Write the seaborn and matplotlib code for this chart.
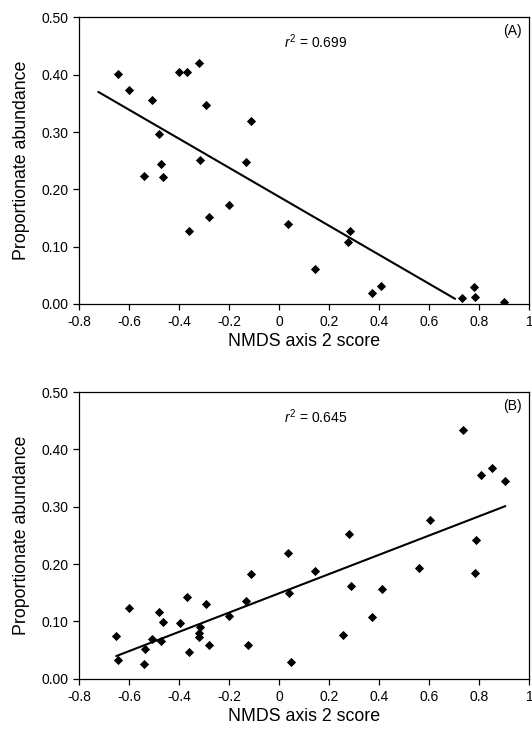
import numpy as np
import pandas as pd
import matplotlib
matplotlib.use("Agg")
import matplotlib.pyplot as plt
import seaborn as sns

# ---- data ----
nmds_a = [-0.645, -0.600, -0.541, -0.508, -0.481, -0.472, -0.464, -0.400, -0.371,
          -0.360, -0.321, -0.319, -0.292, -0.283, -0.200, -0.135, -0.115, 0.036,
          0.141, 0.276, 0.284, 0.369, 0.408, 0.732, 0.780, 0.784, 0.899]
abund_a = [0.402, 0.373, 0.224, 0.355, 0.297, 0.245, 0.221, 0.405, 0.404,
           0.128, 0.421, 0.251, 0.347, 0.152, 0.172, 0.247, 0.320, 0.140,
           0.061, 0.109, 0.128, 0.020, 0.031, 0.010, 0.030, 0.013, 0.003]
fit_x_a = [-0.724, 0.703]
fit_y_a = [0.370, 0.009]
r2_a = "0.699"

nmds_b = [-0.652, -0.645, -0.601, -0.541, -0.537, -0.508, -0.481, -0.473, -0.464,
          -0.399, -0.371, -0.360, -0.319, -0.321, -0.320, -0.292, -0.283, -0.200,
          -0.135, -0.125, -0.115, 0.035, 0.037, 0.047, 0.143, 0.255, 0.277,
          0.287, 0.371, 0.411, 0.560, 0.601, 0.733, 0.783, 0.787, 0.808, 0.849, 0.901]
abund_b = [0.074, 0.033, 0.123, 0.026, 0.051, 0.070, 0.116, 0.065, 0.099,
           0.097, 0.142, 0.047, 0.090, 0.080, 0.072, 0.130, 0.059, 0.110,
           0.136, 0.059, 0.183, 0.220, 0.149, 0.030, 0.188, 0.076, 0.253,
           0.161, 0.108, 0.156, 0.193, 0.277, 0.434, 0.184, 0.242, 0.355, 0.368, 0.345]
fit_x_b = [-0.652, 0.904]
fit_y_b = [0.0395, 0.301]
r2_b = "0.645"

x_ticks = [-0.8, -0.6, -0.4, -0.2, 0, 0.2, 0.4, 0.6, 0.8, 1.0]
x_tick_labels = ["-0.8", "-0.6", "-0.4", "-0.2", "0", "0.2", "0.4", "0.6", "0.8", "1"]
y_ticks = [0.0, 0.1, 0.2, 0.3, 0.4, 0.5]
y_tick_labels = ["0.00", "0.10", "0.20", "0.30", "0.40", "0.50"]

sns.set_style("ticks")
plt.rcParams["font.family"] = ["Liberation Sans", "DejaVu Sans"]
plt.rcParams["mathtext.fontset"] = "custom"
plt.rcParams["mathtext.it"] = "Liberation Sans:italic"
plt.rcParams["mathtext.rm"] = "Liberation Sans"
plt.rcParams["text.color"] = "black"
plt.rcParams["axes.labelcolor"] = "black"
plt.rcParams["axes.linewidth"] = 0.9

fig = plt.figure(figsize=(5.32, 7.35), dpi=100)
ax_a = fig.add_axes([0.149, 0.5864, 0.846, 0.390])
ax_b = fig.add_axes([0.149, 0.0766, 0.846, 0.390])


def draw_panel(ax, xs, ys, fx, fy, r2, tag):
    df = pd.DataFrame({"x": xs, "y": ys})
    sns.scatterplot(data=df, x="x", y="y", marker="D", s=22, color="black",
                    edgecolor="black", linewidth=0, ax=ax, zorder=3)
    fit = pd.DataFrame({"x": fx, "y": fy})
    sns.lineplot(data=fit, x="x", y="y", color="black", linewidth=1.5, ax=ax)
    ax.set_xlim(-0.8, 1.0)
    ax.set_ylim(0.0, 0.5)
    ax.set_xticks(x_ticks)
    ax.set_xticklabels(x_tick_labels)
    ax.set_yticks(y_ticks)
    ax.set_yticklabels(y_tick_labels)
    ax.tick_params(axis="both", labelsize=10, length=4.3, width=0.9, pad=3.5,
                   direction="out", color="black", labelcolor="black")
    for sp in ax.spines.values():
        sp.set_visible(True)
        sp.set_color("black")
    ax.set_xlabel("NMDS axis 2 score", fontsize=12.8, labelpad=3)
    ax.set_ylabel("Proportionate abundance", fontsize=12.8, labelpad=8)
    ax.text(0.524, 0.914, r"$r^2$ = " + r2, transform=ax.transAxes,
            ha="center", va="center", fontsize=10)
    ax.text(0.962, 0.952, tag, transform=ax.transAxes,
            ha="center", va="center", fontsize=10)


draw_panel(ax_a, nmds_a, abund_a, fit_x_a, fit_y_a, r2_a, "(A)")
draw_panel(ax_b, nmds_b, abund_b, fit_x_b, fit_y_b, r2_b, "(B)")

fig.savefig("out.png", dpi=100)
